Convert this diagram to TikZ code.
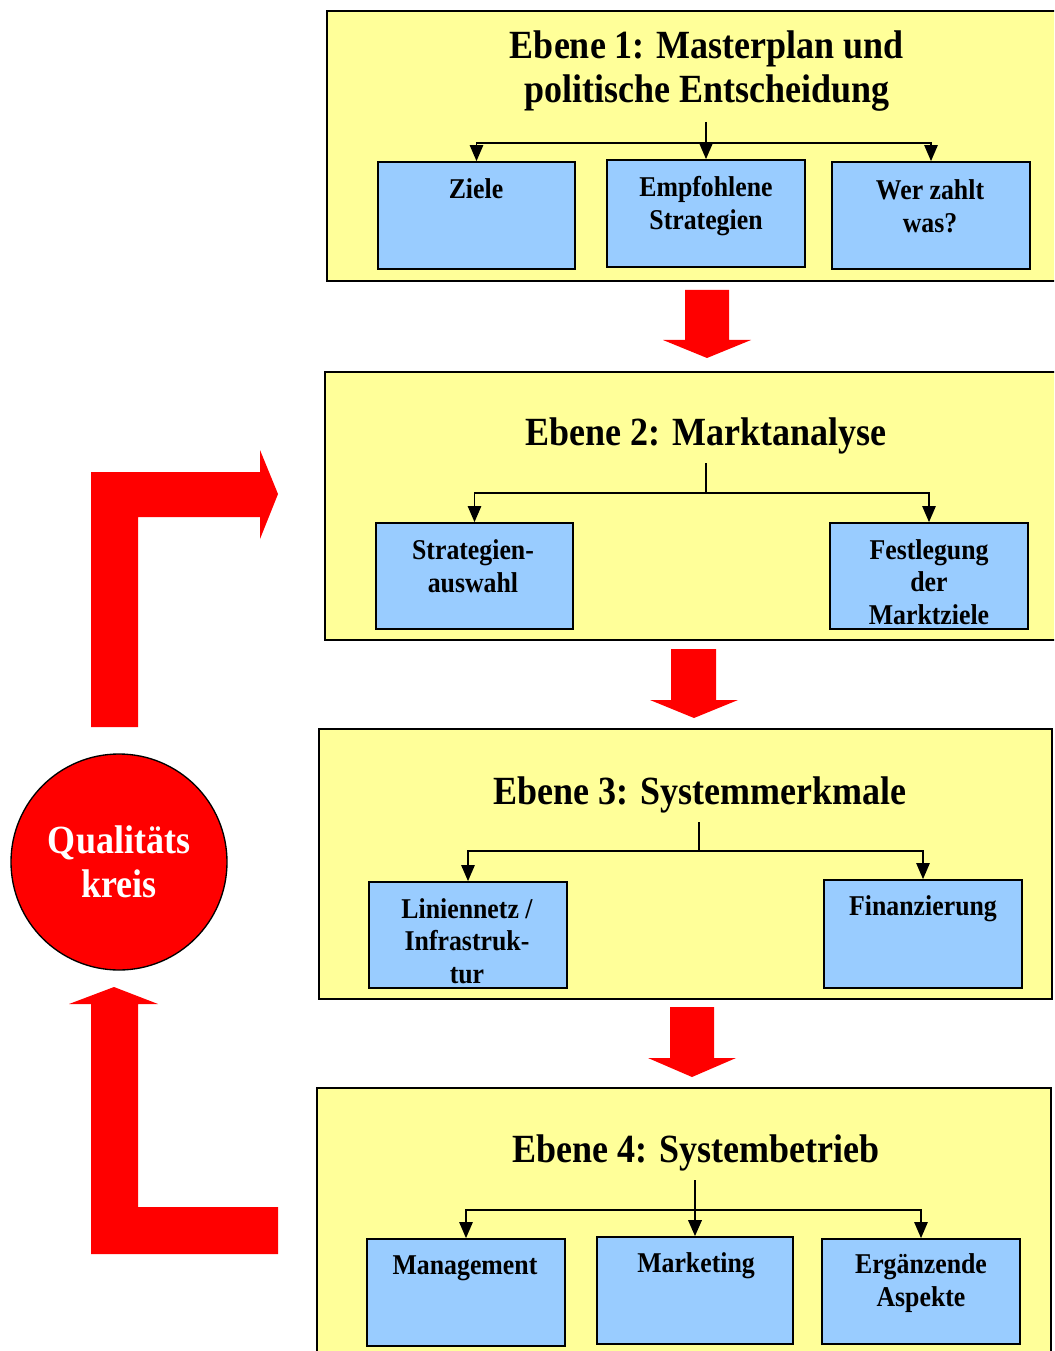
\documentclass[tikz,border=0pt]{standalone}
\usepackage{fontspec}
\setmainfont{Liberation Serif}[FakeStretch=0.9]
\usetikzlibrary{arrows.meta,fit}
\definecolor{lvl}{HTML}{FFFF99}
\definecolor{sub}{HTML}{99CCFF}
\definecolor{rd}{HTML}{FF0000}
\tikzset{
 level/.style={draw=black, fill=lvl, line width=1.3pt, inner sep=0pt},
 subbox/.style={draw=black, fill=sub, line width=1.3pt, inner sep=0pt},
 title/.style={font=\fontsize{30}{33}\selectfont\bfseries, align=center, inner sep=0pt},
 subtxt/.style={font=\fontsize{21.5}{24.5}\selectfont\bfseries, align=center, inner sep=0pt},
 conn/.style={line width=1.2pt},
 arr/.style={line width=1.2pt, -{Triangle[length=12pt,width=10pt]}},
 bigred/.style={fill=rd, draw=none},
}
\begin{document}
\begin{tikzpicture}[x=0.75pt,y=-0.75pt]
\useasboundingbox (0,0) rectangle (1054,1351);
\clip (0,0) rectangle (1054,1351);
% level boxes
\node[level, fit={(327,11) (1060,281)}] (L1) {};
\node[level, fit={(325,372) (1060,640)}] (L2) {};
\node[level, fit={(319,729) (1052,999)}] (L3) {};
\node[level, fit={(317,1088) (1051,1360)}] (L4) {};
% titles
\node[title] (T1) at (707,71) {Ebene 1: Masterplan und\\politische Entscheidung};
\node[title] (T2) at (706,436) {Ebene 2: Marktanalyse};
\node[title] (T3) at (700,795) {Ebene 3: Systemmerkmale};
\node[title] (T4) at (696,1153) {Ebene 4: Systembetrieb};
% sub boxes
\node[subbox, fit={(378,162) (575,269)}] (ziele) {};
\node[subbox, fit={(607,160) (805,267)}] (emp) {};
\node[subbox, fit={(832,162) (1030,269)}] (wer) {};
\node[subbox, fit={(376,523) (573,629)}] (strat) {};
\node[subbox, fit={(830,523) (1028,629)}] (fest) {};
\node[subbox, fit={(369,882) (567,988)}] (lin) {};
\node[subbox, fit={(824,880) (1022,988)}] (fin) {};
\node[subbox, fit={(367,1239) (565,1346)}] (man) {};
\node[subbox, fit={(597,1237) (793,1344)}] (mkt) {};
\node[subbox, fit={(822,1239) (1020,1344)}] (erg) {};
% sub texts
\node[subtxt] (tziele) at (476,189) {Ziele};
\node[subtxt] (temp) at (706,206) {Empfohlene\\Strategien};
\node[subtxt] (twer) at (930,206) {Wer zahlt\\was?};
\node[subtxt] (tstrat) at (473,566) {Strategien-\\auswahl};
\node[subtxt] (tfest) at (929,582) {Festlegung\\der\\Marktziele};
\node[subtxt] (tlin) at (467,941) {Liniennetz /\\Infrastruk-\\tur};
\node[subtxt] (tfin) at (923,909) {Finanzierung};
\node[subtxt] (tman) at (465,1268) {Management};
\node[subtxt] (tmkt) at (696,1266) {Marketing};
\node[subtxt] (terg) at (921,1283) {Ergänzende\\Aspekte};
% connectors level 1
\coordinate (t1) at (706,122);
\coordinate (b1) at (706,143);
\draw[arr] (t1) -- (emp.north);
\draw[arr] (b1) -| (ziele.north);
\draw[arr] (b1) -| (wer.north);
% level 2
\coordinate (t2) at (706,463);
\coordinate (b2) at (706,493);
\draw[conn] (t2) -- (b2);
\draw[arr] (b2) -| (strat.north);
\draw[arr] (b2) -| (fest.north);
% level 3
\coordinate (t3) at (699,822);
\coordinate (b3) at (699,851);
\draw[conn] (t3) -- (b3);
\draw[arr] (b3) -| (lin.north);
\draw[arr] (b3) -| (fin.north);
% level 4
\coordinate (t4) at (695,1180);
\coordinate (b4) at (695,1210);
\draw[arr, line width=1.8pt] (t4) -- (mkt.north);
\draw[arr] (b4) -| (man.north);
\draw[arr] (b4) -| (erg.north);
% red down arrows
\fill[bigred] (685,290) -- (729,290) -- (729,340) -- (751,340) -- (707,358) -- (663,340) -- (685,340) -- cycle;
\fill[bigred] (671,649) -- (716,649) -- (716,700) -- (738,700) -- (694,718) -- (650,700) -- (671,700) -- cycle;
\fill[bigred] (670,1007) -- (714,1007) -- (714,1058) -- (736,1058) -- (692,1077) -- (648,1058) -- (670,1058) -- cycle;
% bent arrows
\fill[bigred] (91,727) -- (91,472) -- (260,472) -- (260,450) -- (278,494) -- (260,539) -- (260,517) -- (138,517) -- (138,727) -- cycle;
\fill[bigred] (278,1207) -- (138,1207) -- (138,1004) -- (158,1004) -- (114,987) -- (69,1004) -- (91,1004) -- (91,1254) -- (278,1254) -- cycle;
% circle
\node[circle, draw=black, fill=rd, line width=1pt, minimum size=162pt, inner sep=0pt,
  text=white, align=center, font=\fontsize{30}{33}\selectfont\bfseries] (qk) at (119,862) {Qualitäts\\kreis};
\end{tikzpicture}
\end{document}
